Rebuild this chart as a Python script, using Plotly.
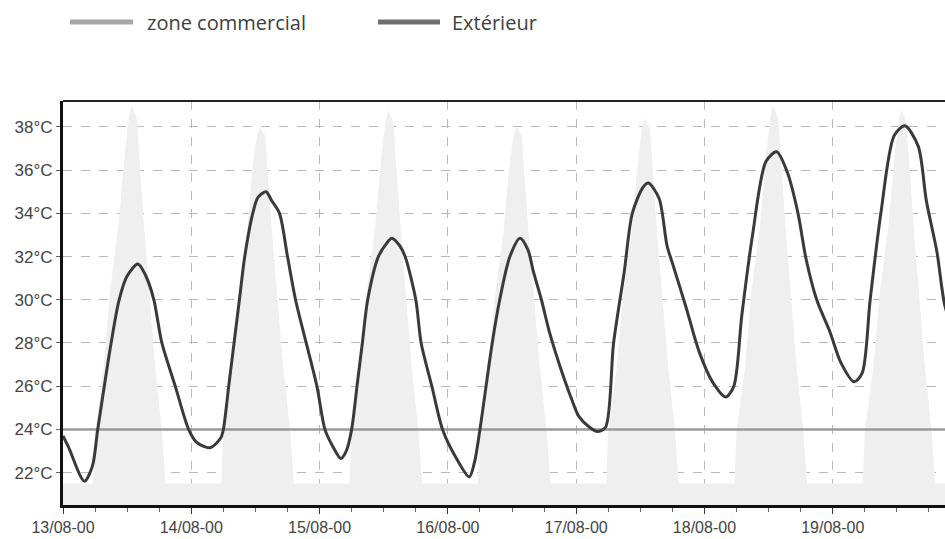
import datetime as dt

import plotly.graph_objects as go

# Heures depuis le 13/08 00h et temperature exterieure
heures_ext = [0, 1, 4, 5.5, 6.5, 9, 10.5, 12, 14, 15.5, 17, 18.5, 21, 23.5,
              25, 27.5, 29.5, 30, 31, 32, 33, 34, 35.5, 36.5, 38, 39, 40.5, 42, 43.5, 45.5, 47.5,
              49, 50.5, 52, 53, 54, 55, 56, 57, 59, 60.5, 61.5, 63, 64, 66, 67, 69, 71,
              73.5, 76, 77, 78, 80.3, 81.7, 83.6, 85.5, 87, 88, 89.5, 91, 93, 95,
              96.5, 98.5, 100, 101.5, 103, 105, 106.5, 108.5, 109.5, 111.5, 113, 114, 116.5, 119,
              121.5, 124, 125.5, 127, 129, 131.5, 133.5, 135.5, 137.5, 139, 141, 143.5,
              145.5, 148, 149.5, 151, 153, 155.5, 157.5, 160, 161.5, 163.5, 165, 167]
t_ext = [23.7, 23.2, 21.6, 22.3, 24.0, 28.0, 30.0, 31.1, 31.65, 31.1, 30.0, 28.0, 26.0, 24.0,
         23.4, 23.15, 23.6, 24.0, 26.0, 28.0, 30.0, 32.0, 34.0, 34.75, 35.0, 34.6, 34.0, 32.0, 30.0, 28.0, 26.0,
         24.0, 23.2, 22.65, 23.0, 24.0, 26.0, 28.0, 30.0, 32.0, 32.6, 32.85, 32.5, 32.0, 30.0, 28.0, 26.0, 24.0,
         22.7, 21.8, 22.5, 24.0, 28.0, 30.0, 32.0, 32.85, 32.3, 31.3, 30.0, 28.5, 26.9, 25.5,
         24.6, 24.1, 23.9, 24.1, 28.0, 31.3, 34.0, 35.2, 35.4, 34.7, 32.5, 31.7, 29.7, 27.6,
         26.2, 25.5, 26.0, 29.3, 33.0, 36.4, 36.85, 35.9, 34.0, 31.9, 30.0, 28.5,
         27.1, 26.2, 26.6, 30.0, 34.0, 37.6, 38.05, 37.1, 34.6, 32.2, 29.7, 28.3]

# Consigne zone commerciale
t_zone = 24.0

# Fond gris clair (ensoleillement) : heures de la journee et valeurs par jour
fond_heures = [5.6, 6.0, 7.6, 8.7, 10.4, 11.5, 12.3, 12.8, 13.8, 15.1, 17.2, 18.5, 19.2]
fond_13 = [21.5, 23.9, 26.9, 30.2, 33.5, 36.6, 38.4, 39.0, 38.4, 33.6, 27.0, 23.9, 21.5]
fond_14 = [21.5, 23.9, 26.9, 30.0, 33.1, 36.2, 37.6, 38.0, 37.6, 33.1, 26.9, 23.9, 21.5]
fond_15 = [21.5, 23.9, 26.9, 30.1, 33.4, 36.5, 38.2, 38.8, 38.2, 33.5, 27.0, 23.9, 21.5]
fond_16 = [21.5, 23.9, 26.9, 30.0, 33.1, 36.2, 37.6, 38.0, 37.6, 33.1, 26.9, 23.9, 21.5]
fond_17 = [21.5, 23.9, 26.9, 30.0, 33.2, 36.3, 37.9, 38.4, 37.9, 33.2, 26.9, 23.9, 21.5]
fond_18 = [21.5, 23.9, 26.9, 30.2, 33.5, 36.6, 38.4, 39.0, 38.4, 33.6, 27.0, 23.9, 21.5]
fond_19 = [21.5, 23.9, 26.9, 30.1, 33.4, 36.5, 38.2, 38.8, 38.2, 33.5, 27.0, 23.9, 21.5]
fond_base = 21.5

y_ticks = [22, 24, 26, 28, 30, 32, 34, 36, 38]
y_labels = [f"{v}°C" for v in y_ticks]

debut = dt.datetime(2000, 8, 13)

x_ext = [debut + dt.timedelta(hours=h) for h in heures_ext]

x_fond = [debut]
y_fond = [fond_base]
for j, jour in enumerate([fond_13, fond_14, fond_15, fond_16, fond_17, fond_18, fond_19]):
    for h, v in zip(fond_heures, jour):
        x_fond.append(debut + dt.timedelta(days=j, hours=h))
        y_fond.append(v)
x_fond.append(debut + dt.timedelta(hours=168))
y_fond.append(fond_base)

fig = go.Figure()
fig.add_trace(go.Scatter(x=x_fond, y=y_fond, mode='lines', fill='tozeroy',
                         line=dict(width=0, color='#efefef'), fillcolor='#efefef',
                         showlegend=False, hoverinfo='skip'))
fig.add_trace(go.Scatter(x=[x_fond[0], x_fond[-1]], y=[t_zone, t_zone], mode='lines',
                         name='zone commercial', line=dict(color='#9a9a9a', width=2.5),
                         showlegend=False))
fig.add_trace(go.Scatter(x=x_ext, y=t_ext, mode='lines', name='Extérieur',
                         line=dict(color='#3a3a3a', width=3, shape='spline', smoothing=0.8),
                         showlegend=False))

# legende dessinee a la main (echantillons plus longs que ceux de plotly)
# pixels de l'image -> fraction de la zone de trace
def px_x(p):
    return (p - 63) / 882

legende_y = (505 - 22) / 404
for x0, x1, col in [(70, 133, '#a8a8a8'), (378, 440, '#6e6e6e')]:
    fig.add_shape(type='line', xref='paper', yref='paper', x0=px_x(x0), x1=px_x(x1),
                  y0=legende_y, y1=legende_y, line=dict(color=col, width=5))
for x0, txt in [(145, 'zone commercial'), (450, 'Extérieur')]:
    fig.add_annotation(xref='paper', yref='paper', x=px_x(x0), y=legende_y, text=txt,
                       showarrow=False, xanchor='left', yanchor='middle',
                       font=dict(family='Open Sans', size=20, color='#404040'))

# bord superieur
fig.add_shape(type='line', xref='paper', yref='paper', x0=0, x1=1, y0=1, y1=1,
              line=dict(color='#222', width=2))

fig.update_layout(
    width=945, height=539,
    margin=dict(l=63, r=0, t=101, b=34),
    paper_bgcolor='white', plot_bgcolor='white',
    font=dict(family='Liberation Sans, Arial', size=16, color='#444'),
)
fig.update_xaxes(
    type='date', automargin=False,
    range=[debut, debut + dt.timedelta(hours=165)],
    tickformat='%d/%m-%H', dtick=86400000, tick0=debut,
    ticks='outside', ticklen=6, tickcolor='#333',
    showgrid=True, gridcolor='#b8b8b8', griddash='dash', gridwidth=1,
    showline=True, linecolor='#111', linewidth=3,
    minor=dict(dtick=6 * 3600000, ticks='outside', ticklen=4, tickcolor='#666', showgrid=False),
    tickfont=dict(size=16, color='#444'),
    zeroline=False,
)
fig.update_yaxes(
    automargin=False,
    range=[20.5, 39.2],
    tickvals=y_ticks, ticktext=y_labels,
    ticks='outside', ticklen=4, tickcolor='#666',
    showgrid=True, gridcolor='#b8b8b8', griddash='dash', gridwidth=1,
    showline=True, linecolor='#111', linewidth=3,
    tickfont=dict(size=17, color='#444'),
    zeroline=False,
)

# pas de marge de page, pour que la figure occupe toute la fenetre
fig.write_html("out.html", config={'displayModeBar': False},
               post_script="document.body.style.margin='0';document.body.style.overflow='hidden';")
